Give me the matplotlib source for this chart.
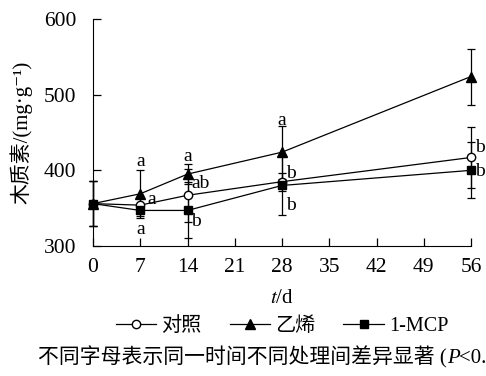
import numpy as np
import matplotlib
matplotlib.use("Agg")
from matplotlib import pyplot as plt
from matplotlib.lines import Line2D
from matplotlib.offsetbox import TextArea, HPacker, AnchoredOffsetbox

FONTS = ['Liberation Serif', 'Noto Sans CJK SC', 'DejaVu Serif']
plt.rcParams['font.family'] = FONTS
plt.rcParams['mathtext.fontset'] = 'stix'

days = [0, 7, 14, 28, 56]
xticks = [0, 7, 14, 21, 28, 35, 42, 49, 56]

ctrl = [356, 354, 367, 385, 417]
ctrl_err = [30, 9, 35, 12, 40]
eth = [356, 369, 395, 424, 524]
eth_err = [30, 32, 13, 35, 37]
mcp = [356, 347, 347, 380, 400]
mcp_err = [30, 8, 37, 39, 37]

letters = [
    (7, 412, "a", "center"), (8, 362, "a", "left"), (7, 322, "a", "center"),
    (14, 418, "a", "center"), (14.6, 383, "ab", "left"), (14.6, 332, "b", "left"),
    (28, 466, "a", "center"), (28.6, 396, "b", "left"), (28.6, 354, "b", "left"),
    (56.6, 430, "b", "left"), (56.6, 398, "b", "left"),
]

fig = plt.figure(figsize=(4.86, 3.76), dpi=100)
ax = fig.add_axes([93/486, 1-246/376, 378/486, 227/376])

kw = dict(color='black', lw=0.9, capsize=3, elinewidth=0.9, capthick=0.9, clip_on=False)
l1 = ax.errorbar(days, ctrl, yerr=ctrl_err, marker='o', mfc='white', mec='black', ms=6, **kw)
l2 = ax.errorbar(days, eth, yerr=eth_err, marker='^', mfc='black', ms=7.5, **kw)
l3 = ax.errorbar(days, mcp, yerr=mcp_err, marker='s', mfc='black', ms=6, **kw)
for item in (l1, l2, l3):
    for a in item.lines[1] + item.lines[2]:
        a.set_clip_on(False)
    item.lines[0].set_clip_on(False)

for x, y, s, ha in letters:
    ax.text(x, y, s, ha=ha, va='center', fontsize=14, clip_on=False)

ax.set_xlim(0, 56)
ax.set_ylim(300, 600)
ax.set_xticks(xticks)
ax.set_yticks([300, 400, 500, 600])
ax.spines['top'].set_visible(False)
ax.spines['right'].set_visible(False)
ax.tick_params(direction='in', length=6, width=0.9, labelsize=15.5)
ax.tick_params(axis='y', pad=12)
ax.tick_params(axis='x', pad=9)
ax.set_xlabel("$\\mathit{t}$/d", fontsize=15, labelpad=8)
ax.set_ylabel("木质素/(mg·g⁻¹)", fontsize=15, labelpad=8)

h1 = Line2D([], [], color='black', lw=0.9, marker='o', mfc='white', ms=6)
h2 = Line2D([], [], color='black', lw=0.9, marker='^', mfc='black', ms=7.5)
h3 = Line2D([], [], color='black', lw=0.9, marker='s', mfc='black', ms=6)
fig.legend([h1, h2, h3], ["对照", "乙烯", "1-MCP"], loc='center',
           bbox_to_anchor=(282/486, 1-326/376), ncol=3, frameon=False,
           fontsize=14.5, handlelength=2.0, handletextpad=0.25, columnspacing=1.4)

note = HPacker(children=[
    TextArea("不同字母表示同一时间不同处理间差异显著 (", textprops=dict(fontsize=15, family=FONTS)),
    TextArea("P", textprops=dict(fontsize=15, family=FONTS, style='italic')),
    TextArea("<0.05)", textprops=dict(fontsize=15, family=FONTS)),
], align='baseline', pad=0, sep=0)
box = AnchoredOffsetbox(loc='center left', child=note, pad=0, frameon=False,
                        bbox_to_anchor=(38/486, 1-357/376), bbox_transform=fig.transFigure,
                        borderpad=0)
fig.add_artist(box)

fig.savefig("out.png", dpi=100)
